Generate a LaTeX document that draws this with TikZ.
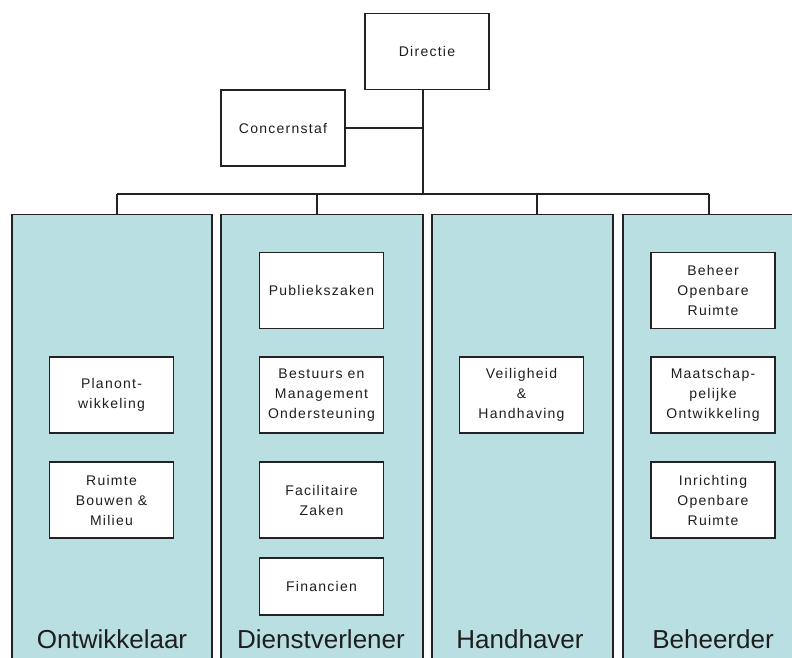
\documentclass[tikz,border=0pt]{standalone}
\usepackage{fontspec}
\setmainfont{Liberation Sans}
\newfontfamily\boxfont[LetterSpace=9]{Liberation Sans}
\definecolor{linec}{RGB}{34,34,34}
\definecolor{colfill}{RGB}{186,223,227}
\definecolor{textc}{RGB}{30,30,30}
\begin{document}
\begin{tikzpicture}[x=1pt,y=-1pt,
  conn/.style={draw=linec, line width=1.3pt},
  unit/.style={draw=linec, line width=1.3pt, fill=white, minimum width=124pt,
    minimum height=76pt, align=center, inner sep=0pt, text=textc,
    font=\boxfont\fontsize{14}{20}\selectfont},
  column/.style={draw=linec, line width=1.3pt, fill=colfill, minimum height=480pt,
    anchor=north, inner sep=0pt},
  collabel/.style={font=\fontsize{26}{30}\selectfont, text=textc, anchor=base}]
\useasboundingbox (0,0) rectangle (792,657);
\clip (0,0) rectangle (792,657);

% top level
\node[unit] (dir) at (427,51.5) {Directie};
\node[unit] (cs) at (283,128) {Concernstaf};

% the four clusters
\node[column, minimum width=200pt] (c1) at (112,214) {};
\node[column, minimum width=202pt] (c2) at (322,214) {};
\node[column, minimum width=181pt] (c3) at (522.5,214) {};
\node[column, minimum width=180pt] (c4) at (713,214) {};

% hierarchy lines
\coordinate (trunk) at (423,194);
\coordinate (b1) at (117,194);
\coordinate (b2) at (317,194);
\coordinate (b3) at (537,194);
\coordinate (b4) at (709,194);
\draw[conn] (trunk |- dir.south) -- (trunk);
\draw[conn] (cs.east) -- (cs.east -| trunk);
\draw[conn] (b1) -- (b4);
\draw[conn] (b1) -- (b1 |- c1.north);
\draw[conn] (b2) -- (b2 |- c2.north);
\draw[conn] (b3) -- (b3 |- c3.north);
\draw[conn] (b4) -- (b4 |- c4.north);

% Ontwikkelaar
\node[unit] (o1) at (111.5,395) {Planont-\\wikkeling};
\node[unit] (o2) at (111.5,500) {Ruimte\\Bouwen \&\\Milieu};

% Dienstverlener
\node[unit] (d1) at (321.5,290.5) {Publiekszaken};
\node[unit] (d2) at (321.5,395) {Bestuurs en\\Management\\Ondersteuning};
\node[unit] (d3) at (321.5,500) {Facilitaire\\Zaken};
\node[unit, minimum height=57pt] (d4) at (321.5,586.5) {Financien};

% Handhaver
\node[unit] (h1) at (521.5,395) {Veiligheid\\\&\\Handhaving};

% Beheerder
\node[unit] (e1) at (713,290.5) {Beheer\\Openbare\\Ruimte};
\node[unit] (e2) at (713,395) {Maatschap-\\pelijke\\Ontwikkeling};
\node[unit] (e3) at (713,500) {Inrichting\\Openbare\\Ruimte};

% cluster names
\node[collabel] (l1) at (112,648) {Ontwikkelaar};
\node[collabel] (l2) at (321,648) {Dienstverlener};
\node[collabel] (l3) at (520,648) {Handhaver};
\node[collabel] (l4) at (713,648) {Beheerder};
\end{tikzpicture}
\end{document}
